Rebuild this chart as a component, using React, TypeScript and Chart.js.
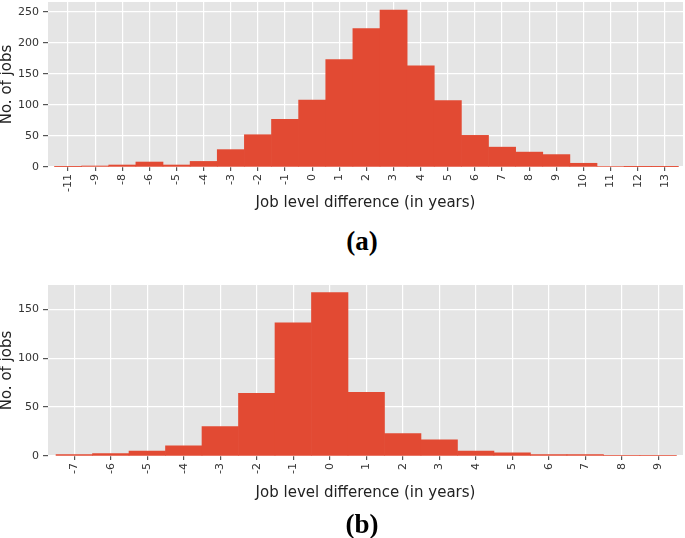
import React, { useEffect, useRef } from "react";
import { Chart, registerables } from "chart.js";

Chart.register(...registerables);

// ---- Data: chart (a) ----
const aLabels = ["-11", "-9", "-8", "-6", "-5", "-4", "-3", "-2", "-1", "0", "1", "2", "3", "4", "5", "6", "7", "8", "9", "10", "11", "12", "13"];
const aCounts = [0.6, 1.6, 3.2, 8, 3.2, 9, 28, 52, 77, 108, 173, 223, 253, 163, 107, 51, 32, 24, 20, 6, 1, 0.5, 0.5];
const aYTicks = [0, 50, 100, 150, 200, 250];
const aYMax = 266;

// ---- Data: chart (b) ----
const bLabels = ["-7", "-6", "-5", "-4", "-3", "-2", "-1", "0", "1", "2", "3", "4", "5", "6", "7", "8", "9"];
const bCounts = [1.4, 2.4, 5, 10.5, 30, 64, 136, 167, 65, 23, 16.5, 5, 3.2, 1.5, 1.5, 0.5, 0.5];
const bYTicks = [0, 50, 100, 150];
const bYMax = 174.7;

const xTitle = "Job level difference (in years)";
const yTitle = "No. of jobs";

const FONT = "'DejaVu Sans', sans-serif";
const BAR = "#E24A33";
const PANEL = "#E5E5E5";

const bgPlugin = {
  id: "panelBg",
  beforeDraw(chart: any) {
    const { ctx, chartArea } = chart;
    if (!chartArea) return;
    ctx.save();
    ctx.fillStyle = PANEL;
    ctx.fillRect(chartArea.left, chartArea.top, chartArea.right - chartArea.left, chartArea.bottom - chartArea.top);
    ctx.restore();
  },
};

function makeConfig(labels: string[], counts: number[], yTicks: number[], yMax: number, padTop: number, xAxisHeight: number, mLeft: number, mRight: number) {
  return {
    type: "bar" as const,
    data: {
      datasets: [
        {
          data: counts.map((c, i) => ({ x: i, y: c })),
          backgroundColor: BAR,
          borderWidth: 0,
          barPercentage: 1,
          categoryPercentage: 1,
        },
      ],
    },
    plugins: [bgPlugin],
    options: {
      animation: false,
      responsive: false,
      maintainAspectRatio: false,
      layout: { padding: { top: padTop, right: 2, left: 0, bottom: 0 } },
      plugins: { legend: { display: false }, tooltip: { enabled: false } },
      scales: {
        x: {
          type: "linear",
          min: -mLeft,
          max: labels.length - 1 + mRight,
          offset: false,
          border: { display: false },
          grid: { offset: false, color: "#FFFFFF", lineWidth: 1.2, tickColor: "#555555", tickLength: 4, drawTicks: true },
          afterBuildTicks: (axis: any) => {
            axis.ticks = labels.map((_, i) => ({ value: i }));
          },
          afterFit: (scale: any) => {
            scale.height = xAxisHeight;
            scale.paddingLeft = 0;
            scale.paddingRight = 0;
          },
          ticks: {
            autoSkip: false,
            minRotation: 90,
            maxRotation: 90,
            padding: 3,
            color: "#333333",
            font: { family: FONT, size: 11 },
            callback: (_v: any, i: number) => labels[i],
          },
          title: {
            display: true,
            text: xTitle,
            color: "#222222",
            font: { family: FONT, size: 15 },
            padding: { top: 0, bottom: 8 },
          },
        },
        y: {
          type: "linear",
          min: 0,
          max: yMax,
          border: { display: false },
          grid: { color: "#FFFFFF", lineWidth: 1.2, tickColor: "#555555", tickLength: 5, drawTicks: true },
          afterBuildTicks: (axis: any) => {
            axis.ticks = yTicks.map((v) => ({ value: v }));
          },
          afterFit: (scale: any) => {
            scale.width = 48;
            scale.paddingTop = 0;
            scale.paddingBottom = 0;
          },
          ticks: {
            padding: 4,
            color: "#333333",
            font: { family: FONT, size: 11 },
            callback: (v: any) => String(v),
          },
          title: {
            display: true,
            text: yTitle,
            color: "#222222",
            font: { family: FONT, size: 15 },
            padding: { top: -2, bottom: 0 },
          },
        },
      },
    },
  };
}

function Hist({ labels, counts, yTicks, yMax, top, height, padTop, xAxisHeight, mLeft, mRight }: any) {
  const ref = useRef<HTMLCanvasElement | null>(null);
  useEffect(() => {
    if (!ref.current) return;
    const chart = new Chart(ref.current, makeConfig(labels, counts, yTicks, yMax, padTop, xAxisHeight, mLeft, mRight) as any);
    return () => chart.destroy();
  }, []);
  return (
    <canvas
      ref={ref}
      width={685}
      height={height}
      style={{ position: "absolute", left: 0, top, width: 685, height }}
    />
  );
}

const captionStyle: React.CSSProperties = {
  position: "absolute",
  left: 362,
  transform: "translateX(-50%)",
  fontFamily: "'Liberation Serif', 'Times New Roman', serif",
  fontWeight: "bold",
  fontSize: 27,
  lineHeight: "27px",
  color: "#000",
  whiteSpace: "nowrap",
};

export default function App() {
  return (
    <div style={{ position: "absolute", left: 0, top: 0, width: 685, height: 538, background: "#fff", overflow: "hidden" }}>
      <Hist labels={aLabels} counts={aCounts} yTicks={aYTicks} yMax={aYMax} top={0} height={220} padTop={2} xAxisHeight={53} mLeft={0.74} mRight={0.67} />
      <div style={{ ...captionStyle, top: 228 }}>(a)</div>
      <Hist labels={bLabels} counts={bCounts} yTicks={bYTicks} yMax={bYMax} top={270} height={240} padTop={15} xAxisHeight={54} mLeft={0.72} mRight={0.68} />
      <div style={{ ...captionStyle, top: 511 }}>(b)</div>
    </div>
  );
}
